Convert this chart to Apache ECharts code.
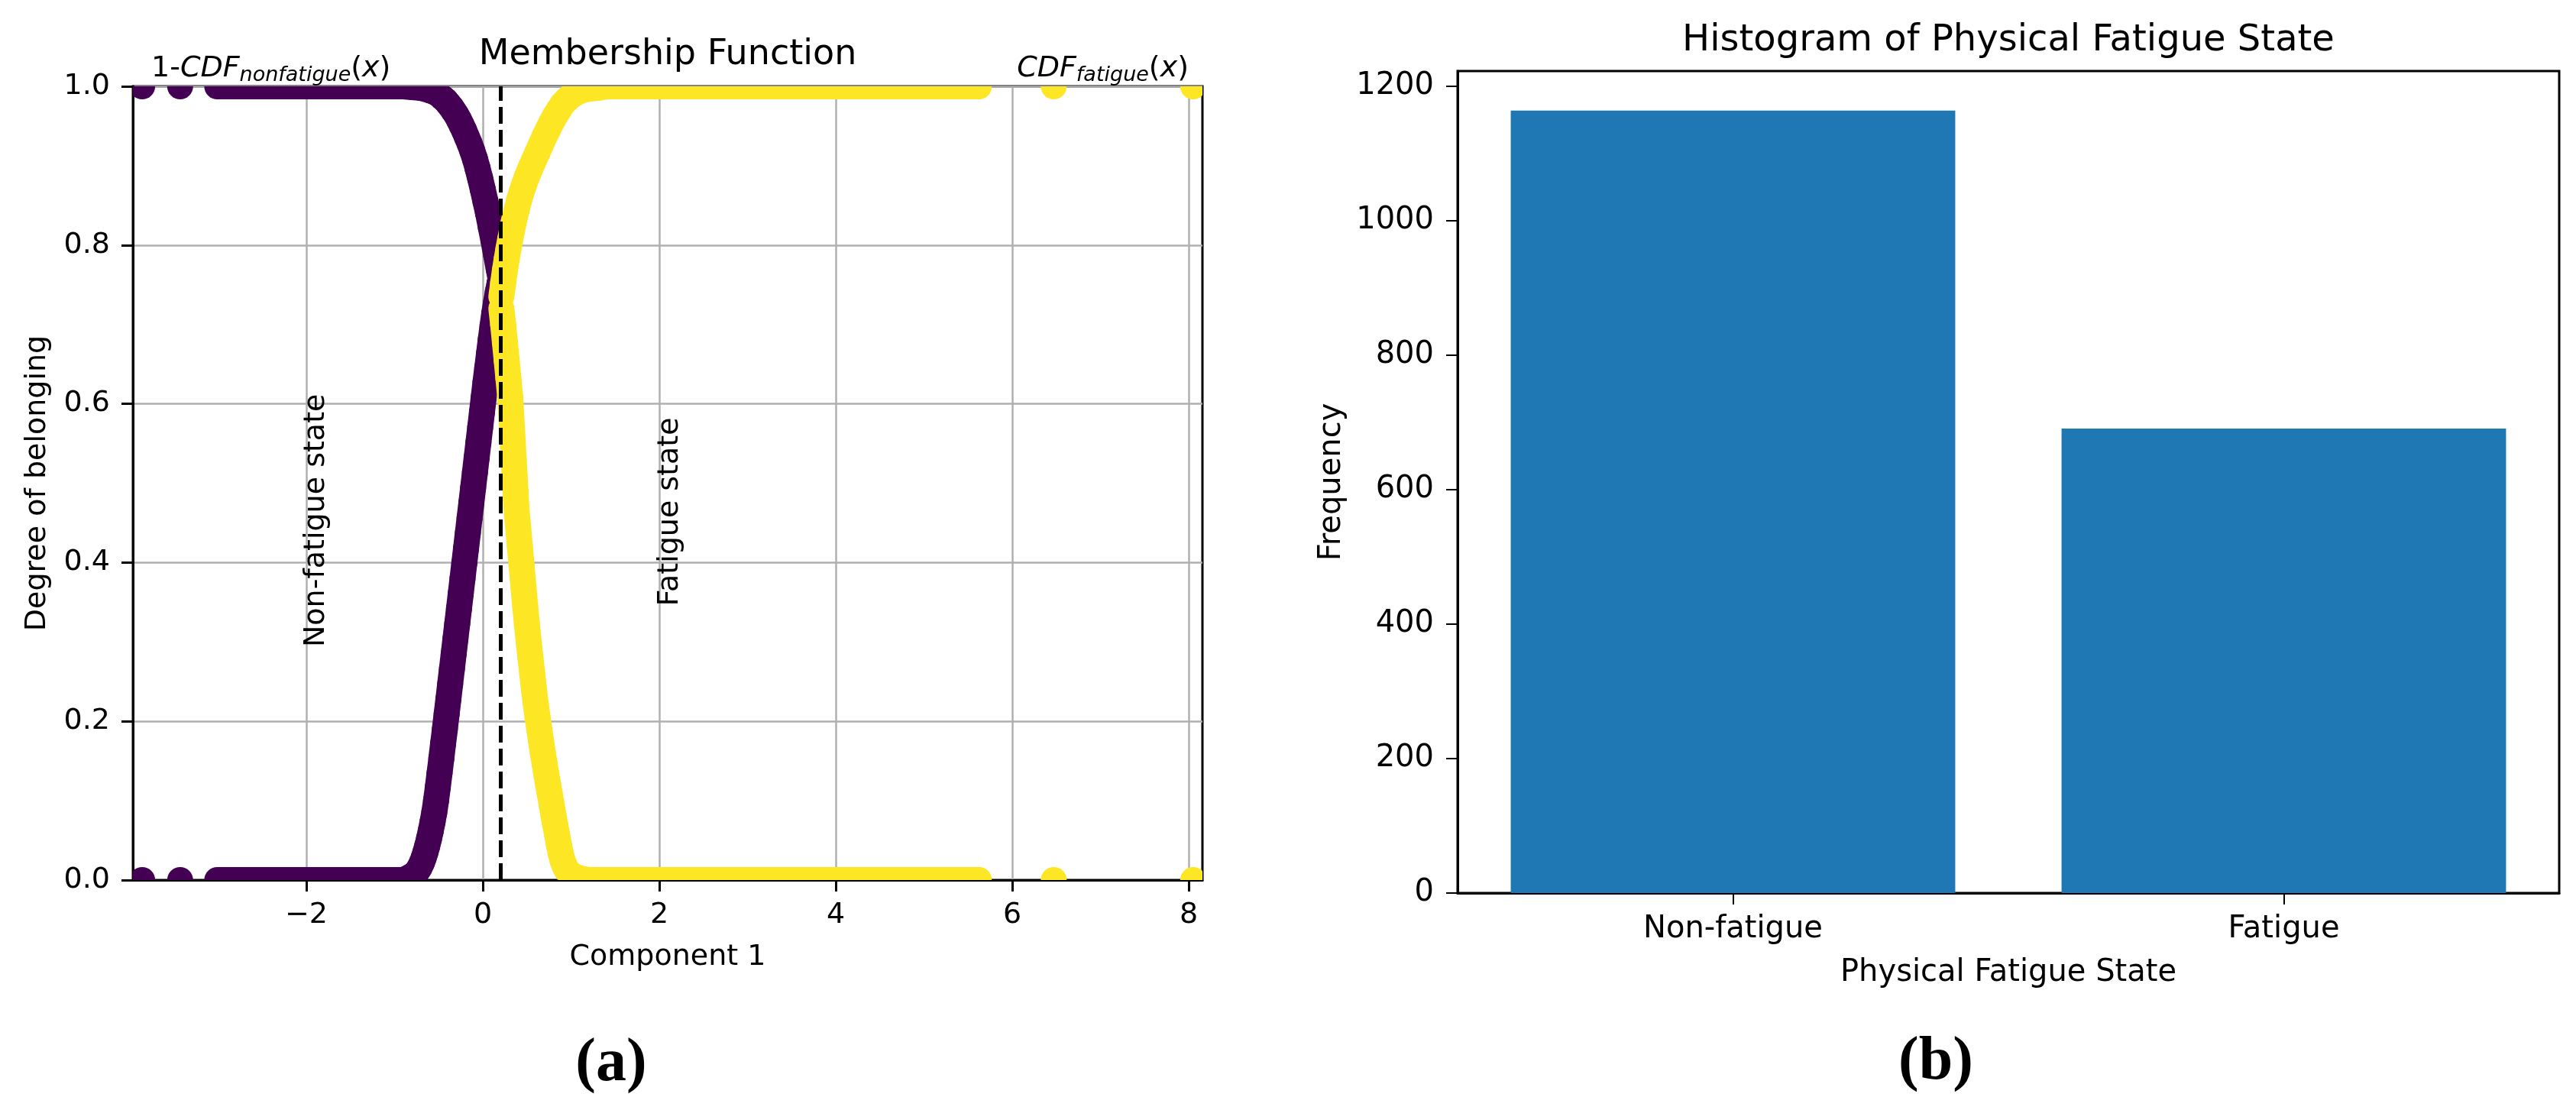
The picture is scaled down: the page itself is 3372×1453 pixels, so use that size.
<!DOCTYPE html>
<html>
<head>
<meta charset="utf-8">
<title>Membership Function / Histogram of Physical Fatigue State</title>
<script src="https://cdn.jsdelivr.net/npm/echarts@6/dist/echarts.min.js"></script>
<style>
  html, body { margin: 0; padding: 0; background: #fff; }
  #main { width: 3372px; height: 1453px; }
</style>
</head>
<body>
<div id="main"></div>
<script>
// ---- values ----
const threshold = 0.2
const xTickValues = [-2, 0, 2, 4, 6, 8]
const freqTickValues = [0, 200, 400, 600, 800, 1000, 1200]
const stateCategories = ['Non-fatigue', 'Fatigue']
const stateCounts = [1164, 691]

// non-fatigue points that sit on the flat parts (drawn at 1 and at 0)
const nonFatigueFlatX = [-3.86, -3.43, -3.01, -2.9, -2.79, -2.68, -2.56, -2.44, -2.32, -2.2, -2.08,
  -1.96, -1.84, -1.72, -1.6, -1.48, -1.36, -1.24, -1.12, -1.0, -0.9]
const nonFatigueUpper = [
  [-0.8, 0.999], [-0.7, 0.998], [-0.6, 0.995], [-0.55, 0.993], [-0.5, 0.99], [-0.46, 0.986],
  [-0.42, 0.982], [-0.39, 0.978], [-0.36, 0.974], [-0.33, 0.969], [-0.3, 0.964], [-0.27, 0.958],
  [-0.24, 0.951], [-0.21, 0.944], [-0.18, 0.936], [-0.15, 0.928], [-0.12, 0.919], [-0.09, 0.909],
  [-0.06, 0.897], [-0.03, 0.884], [0, 0.87], [0.03, 0.855], [0.06, 0.84], [0.09, 0.823],
  [0.12, 0.806], [0.15, 0.788], [0.18, 0.77], [0.2, 0.758]
]
const nonFatigueLower = [
  [-0.82, 0.004], [-0.78, 0.007], [-0.75, 0.01], [-0.72, 0.015], [-0.69, 0.022], [-0.67, 0.028],
  [-0.65, 0.035], [-0.63, 0.043], [-0.61, 0.052], [-0.59, 0.062], [-0.57, 0.073], [-0.55, 0.085],
  [-0.53, 0.1], [-0.51, 0.117], [-0.49, 0.135], [-0.47, 0.153], [-0.45, 0.172], [-0.43, 0.19],
  [-0.41, 0.209], [-0.39, 0.228], [-0.37, 0.247], [-0.35, 0.266], [-0.33, 0.285], [-0.31, 0.304],
  [-0.29, 0.323], [-0.27, 0.342], [-0.25, 0.361], [-0.23, 0.38], [-0.21, 0.399], [-0.19, 0.418],
  [-0.17, 0.437], [-0.15, 0.456], [-0.13, 0.475], [-0.11, 0.494], [-0.09, 0.513], [-0.07, 0.532],
  [-0.05, 0.551], [-0.03, 0.57], [-0.01, 0.589], [0.01, 0.608], [0.03, 0.627], [0.05, 0.645],
  [0.07, 0.663], [0.09, 0.681], [0.11, 0.698], [0.13, 0.714], [0.15, 0.728], [0.17, 0.741],
  [0.19, 0.752]
]

// fatigue points
const fatigueFlatX = [1.4, 1.52, 1.64, 1.76, 1.88, 2.0, 2.12, 2.24, 2.36, 2.48, 2.6, 2.72, 2.84,
  2.96, 3.08, 3.2, 3.32, 3.44, 3.56, 3.68, 3.8, 3.92, 4.04, 4.16, 4.28, 4.4, 4.52, 4.64, 4.76,
  4.88, 5.0, 5.1, 5.35, 5.62, 6.47, 8.05]
const fatigueUpper = [
  [0.21, 0.735], [0.23, 0.752], [0.25, 0.768], [0.27, 0.782], [0.29, 0.795], [0.31, 0.807],
  [0.33, 0.818], [0.35, 0.829], [0.38, 0.843], [0.41, 0.856], [0.44, 0.867], [0.47, 0.877],
  [0.5, 0.886], [0.54, 0.897], [0.58, 0.907], [0.62, 0.917], [0.66, 0.927], [0.7, 0.937],
  [0.74, 0.946], [0.78, 0.955], [0.82, 0.963], [0.86, 0.97], [0.9, 0.977], [0.95, 0.983],
  [1.0, 0.988], [1.06, 0.992], [1.12, 0.995], [1.2, 0.997], [1.3, 0.998]
]
const fatigueLower = [
  [0.21, 0.72], [0.23, 0.7], [0.25, 0.678], [0.27, 0.655], [0.29, 0.632], [0.31, 0.608],
  [0.32, 0.59], [0.33, 0.57], [0.34, 0.55], [0.35, 0.53], [0.36, 0.51], [0.37, 0.49],
  [0.38, 0.47], [0.4, 0.445], [0.42, 0.42], [0.44, 0.395], [0.46, 0.37], [0.48, 0.345],
  [0.5, 0.322], [0.52, 0.3], [0.54, 0.28], [0.56, 0.26], [0.58, 0.24], [0.6, 0.222],
  [0.62, 0.205], [0.64, 0.19], [0.66, 0.175], [0.68, 0.16], [0.7, 0.147], [0.72, 0.133],
  [0.74, 0.12], [0.76, 0.108], [0.78, 0.095], [0.8, 0.082], [0.82, 0.07], [0.84, 0.058],
  [0.86, 0.046], [0.88, 0.035], [0.9, 0.026], [0.93, 0.017], [0.96, 0.011], [1.0, 0.007],
  [1.05, 0.004], [1.1, 0.002], [1.2, 0], [1.3, 0]
]

const nonFatiguePoints = nonFatigueFlatX.map(x => [x, 1]).concat(nonFatigueUpper,
  nonFatigueFlatX.map(x => [x, 0]), nonFatigueLower)
const fatiguePoints = fatigueUpper.concat(fatigueFlatX.map(x => [x, 1]),
  fatigueLower, fatigueFlatX.map(x => [x, 0]))

// ---- chart ----
const FONT = 'DejaVu Sans'
const dotRadius = 17

// outline of a dot, stretched to the next dot when they touch (keeps the band smooth)
function capsule(p, q, r, n) {
  const a = Math.atan2(q[1] - p[1], q[0] - p[0])
  const pts = []
  for (let k = 0; k <= n; k++) {
    const t = a - Math.PI / 2 + Math.PI * k / n
    pts.push([q[0] + r * Math.cos(t), q[1] + r * Math.sin(t)])
  }
  for (let k = 0; k <= n; k++) {
    const t = a + Math.PI / 2 + Math.PI * k / n
    pts.push([p[0] + r * Math.cos(t), p[1] + r * Math.sin(t)])
  }
  return pts
}

function dots(points, color) {
  return function (params, api) {
    const cs = params.coordSys
    const i = params.dataIndex
    const p = api.coord(points[i])
    let q = p
    const next = points[i + 1]
    if (next) {
      const c = api.coord(next)
      if (Math.hypot(c[0] - p[0], c[1] - p[1]) < 45) q = c
    }
    // cut the dot at the frame like matplotlib does
    const x0 = cs.x, x1 = cs.x + cs.width, y0 = cs.y, y1 = cs.y + cs.height
    const pts = capsule(p, q, dotRadius, 16).map(([x, y]) => [
      Math.min(Math.max(x, x0), x1), Math.min(Math.max(y, y0), y1)
    ])
    return { type: 'polygon', shape: { points: pts }, style: { fill: color } }
  }
}

function minus(v) {
  return v < 0 ? '\u2212' + Math.abs(v) : String(v)
}

const spine = { color: '#000', width: 3 }
const chart = echarts.init(document.getElementById('main'))

const mathRich = {
  n: { fontSize: 38, fontFamily: FONT, lineHeight: 44, fill: '#000' },
  i: { fontSize: 38, fontFamily: FONT, fontStyle: 'italic', lineHeight: 44, fill: '#000' },
  s: { fontSize: 27, fontFamily: FONT, fontStyle: 'italic', lineHeight: 27, verticalAlign: 'bottom', fill: '#000' }
}

const option = {
  animation: false,
  backgroundColor: '#fff',
  textStyle: { fontFamily: FONT, color: '#000' },
  grid: [
    { left: 174, top: 113, width: 1400, height: 1039, show: true, borderColor: '#000', borderWidth: 3 },
    { left: 1908, top: 93, width: 1442, height: 1076, show: true, borderColor: '#000', borderWidth: 3 }
  ],
  xAxis: [
    {
      gridIndex: 0, type: 'value', min: -3.965, max: 8.155,
      name: 'Component 1', nameLocation: 'middle', nameGap: 82,
      nameTextStyle: { fontSize: 38, color: '#000' },
      axisLine: { show: true, onZero: false, lineStyle: spine },
      axisTick: { show: true, length: 15, customValues: xTickValues, lineStyle: spine },
      axisLabel: { customValues: xTickValues, fontSize: 38, margin: 27, color: '#000', formatter: minus },
      splitLine: { show: true, lineStyle: { color: '#b0b0b0', width: 2.5 } }
    },
    {
      gridIndex: 1, type: 'category', data: stateCategories,
      name: 'Physical Fatigue State', nameLocation: 'middle', nameGap: 85,
      nameTextStyle: { fontSize: 40, color: '#000' },
      axisLine: { show: true, onZero: false, lineStyle: spine },
      axisTick: { show: true, length: 15, alignWithLabel: true, lineStyle: { color: '#000', width: 2 } },
      axisLabel: { fontSize: 40, margin: 28, color: '#000' },
      splitLine: { show: false }
    }
  ],
  yAxis: [
    {
      gridIndex: 0, type: 'value', min: 0, max: 1, interval: 0.2,
      name: 'Degree of belonging', nameLocation: 'middle', nameGap: 106, nameRotate: 90,
      nameTextStyle: { fontSize: 38, color: '#000' },
      axisLine: { show: true, onZero: false, lineStyle: spine },
      axisTick: { show: true, length: 15, lineStyle: spine },
      axisLabel: { fontSize: 38, margin: 30, color: '#000', formatter: v => v.toFixed(1) },
      splitLine: { show: true, lineStyle: { color: '#b0b0b0', width: 2.5 } }
    },
    {
      gridIndex: 1, type: 'value', min: 0, max: 1222.7,
      name: 'Frequency', nameLocation: 'middle', nameGap: 144, nameRotate: 90,
      nameTextStyle: { fontSize: 40, color: '#000' },
      axisLine: { show: true, onZero: false, lineStyle: spine },
      axisTick: { show: true, length: 15, customValues: freqTickValues, lineStyle: { color: '#000', width: 2 } },
      axisLabel: { customValues: freqTickValues, fontSize: 40, margin: 31, color: '#000', formatter: v => String(v) },
      splitLine: { show: false }
    }
  ],
  series: [
    {
      name: 'Non-fatigue', type: 'custom', xAxisIndex: 0, yAxisIndex: 0, clip: true, silent: true,
      renderItem: dots(nonFatiguePoints, '#440154'), encode: { x: 0, y: 1 }, data: nonFatiguePoints
    },
    {
      name: 'Fatigue', type: 'custom', xAxisIndex: 0, yAxisIndex: 0, clip: true, silent: true,
      renderItem: dots(fatiguePoints, '#fde725'), encode: { x: 0, y: 1 }, data: fatiguePoints
    },
    {
      // threshold line and the two state labels
      type: 'line', xAxisIndex: 0, yAxisIndex: 0, data: [], silent: true,
      markLine: {
        silent: true, symbol: ['none', 'none'], label: { show: false },
        lineStyle: { color: '#000', width: 5, opacity: 1, type: [22, 8] },
        data: [{ xAxis: threshold }]
      },
      markPoint: {
        silent: true, symbol: 'circle', symbolSize: 0,
        label: { show: true, position: 'inside', rotate: 90, fontSize: 38, color: '#000', fontFamily: FONT },
        data: [
          // offset is in the rotated label's frame: second number moves it right on screen
          { coord: [-2, 0.453], label: { formatter: 'Non-fatigue state', offset: [0, 13] } },
          { coord: [2, 0.464], label: { formatter: 'Fatigue state', offset: [0, 14] } }
        ]
      }
    },
    {
      name: 'Frequency', type: 'bar', xAxisIndex: 1, yAxisIndex: 1, barWidth: '80.7%',
      itemStyle: { color: '#1f77b4' }, silent: true, data: stateCounts
    }
  ],
  graphic: [
    {
      type: 'text', x: 874, y: 72, silent: true,
      style: { text: 'Membership Function', font: '46px "DejaVu Sans"', fill: '#000', align: 'center', verticalAlign: 'middle' }
    },
    {
      type: 'text', x: 198, y: 68, silent: true,
      style: { text: '{n|1-}{i|CDF}{s|nonfatigue}{n|(}{i|x}{n|)}', rich: mathRich, align: 'left', verticalAlign: 'top' }
    },
    {
      type: 'text', x: 1556, y: 68, silent: true,
      style: { text: '{i|CDF}{s|fatigue}{n|(}{i|x}{n|)}', rich: mathRich, align: 'right', verticalAlign: 'top' }
    },
    {
      type: 'text', x: 2629, y: 54, silent: true,
      style: { text: 'Histogram of Physical Fatigue State', font: '48px "DejaVu Sans"', fill: '#000', align: 'center', verticalAlign: 'middle' }
    },
    {
      type: 'text', x: 800, y: 1393, silent: true,
      style: { text: '(a)', font: 'bold 80px "Liberation Serif"', fill: '#000', align: 'center', verticalAlign: 'middle' }
    },
    {
      type: 'text', x: 2534, y: 1391, silent: true,
      style: { text: '(b)', font: 'bold 80px "Liberation Serif"', fill: '#000', align: 'center', verticalAlign: 'middle' }
    }
  ]
}

chart.setOption(option)
</script>
</body>
</html>
